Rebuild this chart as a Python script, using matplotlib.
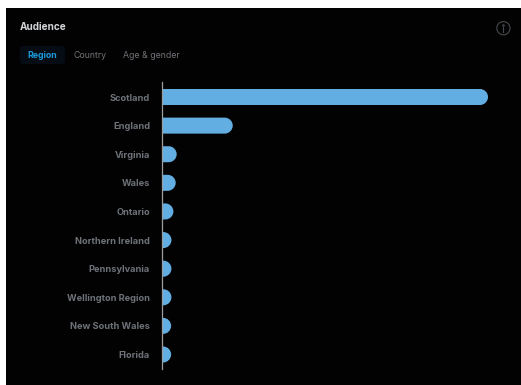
import matplotlib
matplotlib.use("Agg")
import matplotlib.pyplot as plt
from matplotlib.patches import FancyBboxPatch, Rectangle, Circle, PathPatch
from matplotlib.path import Path
import numpy as np

regions = ["Scotland", "England", "Virginia", "Wales", "Ontario", "Northern Ireland",
           "Pennsylvania", "Wellington Region", "New South Wales", "Florida"]
audience = [100, 21.7, 4.5, 4.2, 3.5, 2.9, 2.9, 2.9, 2.8, 2.8]
tabs = ["Region", "Country", "Age & gender"]
tab_x = [27.5, 73.3, 122.8]
tab_colors = ["#1b9adb", "#6f7276", "#6f7276"]

W, H = 521, 385
BAR_COLOR = "#62aee2"
BAR_PX = 16


def rounded_bar(ax, y, value, rx, ry):
    # square on the baseline side, round on the value side
    kx, ky = 0.5523 * rx, 0.5523 * ry
    top, bot = y - ry, y + ry
    verts = [(0, top), (value - rx, top),
             (value - rx + kx, top), (value, y - ky), (value, y),
             (value, y + ky), (value - rx + kx, bot), (value - rx, bot),
             (0, bot), (0, top)]
    codes = [Path.MOVETO, Path.LINETO, Path.CURVE4, Path.CURVE4, Path.CURVE4,
             Path.CURVE4, Path.CURVE4, Path.CURVE4, Path.LINETO, Path.CLOSEPOLY]
    ax.add_patch(PathPatch(Path(verts, codes), fc=BAR_COLOR, ec="none", zorder=2))


fig = plt.figure(figsize=(W / 100, H / 100), dpi=100, facecolor="white")

# page layer in pixel coordinates, y pointing down
bg = fig.add_axes([0, 0, 1, 1])
bg.set_xlim(0, W)
bg.set_ylim(H, 0)
bg.axis("off")
bg.add_patch(Rectangle((6, 8), W - 6, H - 8, fc="#020203", ec="none"))

bg.text(19.5, 27, "Audience", color="#d4d6d9", fontsize=7.2, fontweight="bold",
        family="Inter", va="center")
bg.add_patch(FancyBboxPatch((20, 46), 45, 18, boxstyle="round,pad=0,rounding_size=3",
                            fc="#060c14", ec="none"))
for name, x, c in zip(tabs, tab_x, tab_colors):
    bg.text(x, 55, name, color=c, fontsize=6.3, family="Inter", va="center",
            fontweight="bold" if name == "Region" else "normal")

# info icon
bg.add_patch(Circle((503.4, 28.2), 6.6, fc="none", ec="#46494c", lw=0.8))
bg.plot([503.4, 503.4], [26.8, 31.6], color="#46494c", lw=0.8)
bg.plot([503.4], [24.8], marker="o", ms=0.8, color="#46494c")

# chart axes: x runs from the baseline to the end of the largest bar
x0, x1 = 162, 488
y_top, y_bot = 82, 369
row_px = 28.6
ax = fig.add_axes([x0 / W, 1 - y_bot / H, (x1 - x0) / W, (y_bot - y_top) / H])
ax.patch.set_alpha(0)
ax.set_xlim(0, 100)
ax.set_ylim(len(regions) - 1 + 14.5 / row_px, -15 / row_px)
y_pos = np.arange(len(regions))
ax.set_yticks(y_pos)
ax.set_yticklabels(regions, color="#6d7278", fontsize=6.65, family="Inter", fontweight="bold")
ax.tick_params(axis="y", length=0, pad=8.6)
ax.set_xticks([])
for s in ["top", "right", "bottom"]:
    ax.spines[s].set_visible(False)
ax.spines["left"].set_color("#9a9da1")
ax.spines["left"].set_linewidth(0.9)
ax.spines["left"].set_zorder(3)

# bar end radius converted to data units so the caps stay round
rx = (BAR_PX / 2) * 100 / (x1 - x0)
ry = (BAR_PX / 2) / row_px
for y, v in zip(y_pos, audience):
    rounded_bar(ax, y, v, rx, ry)

fig.savefig("out.png", dpi=100)
